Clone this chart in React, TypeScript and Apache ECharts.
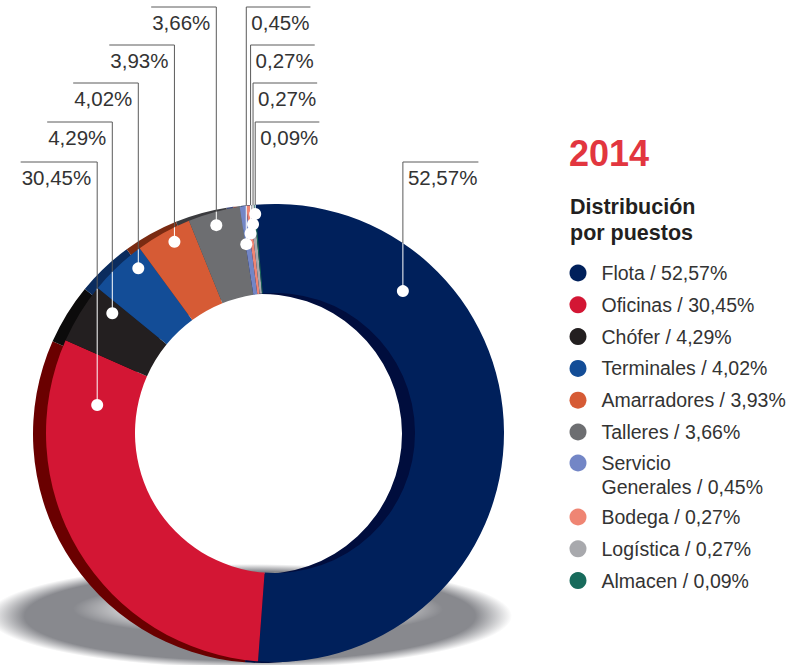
import React, { useEffect, useRef } from 'react';
import * as echarts from 'echarts';

// ---------- data ----------
const categories = [
  'Flota',
  'Oficinas',
  'Chófer',
  'Terminales',
  'Amarradores',
  'Talleres',
  'Servicio Generales',
  'Bodega',
  'Logística',
  'Almacen',
];
const values = [52.57, 30.45, 4.29, 4.02, 3.93, 3.66, 0.45, 0.27, 0.27, 0.09];
const titleYear = '2014';
const subtitle = 'Distribución\npor puestos';

// ---------- styles ----------
const colors = ['#00205b', '#d31634', '#231f20', '#134d97', '#d65b35', '#6d6e71', '#7386c6', '#ef8573', '#a8a9ad', '#186b5c'];
const darkColors = ['#000d3d', '#6a0000', '#0c0b0b', '#0b2c5e', '#7a2b12', '#3b3b3e', '#3d4a80', '#8a4a40', '#5c5d60', '#0b3a32'];
const FONT = "'Liberation Sans', Arial, sans-serif";
const TEXT = '#333333';

// ---------- layout ----------
const CX = 275;
const CY = 433;
const R_OUT = 229;
const R_IN = 140;
const START = 95;
const BACK_DX = -13;
const BACK_DY = 1;
const labelLineY = [162, 162, 122, 83, 45, 7, 7, 45, 83, 122];
const labelSide = ['right', 'left', 'left', 'left', 'left', 'left', 'right', 'right', 'right', 'right'];
const dotFrac = [0.2485, 0.864, 0.808, 0.759, 0.598, 0.478, 0.15, 0.3, 0.3, 0.5];
const dotRadius = [191, 180, 202, 214, 216, 216, 191, 201, 210, 220];

const fmt = (v: number) => v.toFixed(2).replace('.', ',');
const total = values.reduce((a, b) => a + b, 0);

function dotPos(i: number): [number, number] {
  let cum = 0;
  for (let j = 0; j < i; j++) cum += values[j];
  const frac = (cum + dotFrac[i] * values[i]) / total;
  const ang = ((START - 360 * frac) * Math.PI) / 180;
  return [CX + dotRadius[i] * Math.cos(ang), CY - dotRadius[i] * Math.sin(ang)];
}

export default function App() {
  const ref = useRef<HTMLDivElement>(null);

  useEffect(() => {
    document.body.style.margin = '0';
    if (!ref.current) return;
    const chart = echarts.init(ref.current, null, { renderer: 'svg' });
    const anchors = values.map((_, i) => dotPos(i));

    const dotElements: any[] = [];
    anchors.forEach(([x, y]) => {
      const edgeY = CY - Math.sqrt(Math.max(0, R_OUT * R_OUT - (x - CX) * (x - CX)));
      dotElements.push({
        type: 'line',
        z: 10,
        silent: true,
        shape: { x1: x, y1: y, x2: x, y2: edgeY },
        style: { stroke: '#ffffff', lineWidth: 1 },
      });
      dotElements.push({
        type: 'circle',
        z: 11,
        silent: true,
        shape: { cx: x, cy: y, r: 6 },
        style: { fill: '#ffffff' },
      });
    });

    const legendFmt = (name: string) => `${name} / ${fmt(values[categories.indexOf(name)])}%`;
    const legendText = {
      fontSize: 19.5,
      lineHeight: 24,
      color: TEXT,
      fontFamily: FONT,
      padding: [0, 0, 0, 10],
    };

    chart.setOption({
      animation: false,
      backgroundColor: '#ffffff',
      title: [
        {
          text: titleYear,
          left: 569,
          top: 135,
          padding: 0,
          textStyle: { fontSize: 36, fontWeight: 'bold', color: '#e2363f', fontFamily: FONT },
        },
        {
          text: subtitle,
          left: 570,
          top: 194,
          padding: 0,
          textStyle: { fontSize: 21.5, fontWeight: 'bold', lineHeight: 26, color: '#231f20', fontFamily: FONT },
        },
      ],
      legend: [
        {
          data: categories.slice(0, 6),
          orient: 'vertical',
          left: 569.5,
          top: 261,
          padding: 0,
          itemGap: 7.8,
          itemWidth: 17,
          itemHeight: 17,
          icon: 'circle',
          selectedMode: false,
          formatter: legendFmt,
          textStyle: legendText,
        },
        {
          data: [categories[6]],
          orient: 'vertical',
          left: 569.5,
          top: 438.5,
          padding: 0,
          itemWidth: 17,
          itemHeight: 17,
          icon: 'circle',
          selectedMode: false,
          formatter: () => `{a|Servicio}\n{b|Generales / ${fmt(values[6])}%}`,
          textStyle: {
            ...legendText,
            rich: {
              a: { fontSize: 19.5, lineHeight: 48, color: TEXT, fontFamily: FONT },
              b: { fontSize: 19.5, lineHeight: 1, color: TEXT, fontFamily: FONT },
            },
          },
        },
        {
          data: categories.slice(7),
          orient: 'vertical',
          left: 569.5,
          top: 505,
          padding: 0,
          itemGap: 7.8,
          itemWidth: 17,
          itemHeight: 17,
          icon: 'circle',
          selectedMode: false,
          formatter: legendFmt,
          textStyle: legendText,
        },
      ],
      graphic: {
        elements: [
          {
            type: 'ellipse',
            z: 0,
            silent: true,
            shape: { cx: 250, cy: 616, rx: 262, ry: 52 },
            style: {
              fill: {
                type: 'radial',
                x: 0.5,
                y: 0.5,
                r: 0.5,
                colorStops: [
                  { offset: 0, color: 'rgba(136,137,142,1)' },
                  { offset: 0.86, color: 'rgba(136,137,142,1)' },
                  { offset: 1, color: 'rgba(136,137,142,0)' },
                ],
              },
            },
          },
          {
            type: 'ellipse',
            z: 0,
            silent: true,
            shape: { cx: 258, cy: 609, rx: 185, ry: 27 },
            style: {
              fill: {
                type: 'radial',
                x: 0.5,
                y: 0.5,
                r: 0.5,
                colorStops: [
                  { offset: 0, color: 'rgba(255,255,255,1)' },
                  { offset: 0.55, color: 'rgba(255,255,255,0.95)' },
                  { offset: 1, color: 'rgba(255,255,255,0)' },
                ],
              },
            },
          },
          ...dotElements,
        ],
      },
      series: [
        {
          type: 'pie',
          name: 'front',
          z: 3,
          center: [CX, CY],
          radius: [R_IN, R_OUT],
          startAngle: START,
          clockwise: true,
          avoidLabelOverlap: false,
          silent: true,
          itemStyle: { borderWidth: 0 },
          data: categories.map((name, i) => ({ name, value: values[i], itemStyle: { color: colors[i] } })),
          label: {
            show: true,
            position: 'outside',
            formatter: (p: any) => `${fmt(p.value)}%`,
            fontSize: 20.5,
            color: TEXT,
            fontFamily: FONT,
          },
          labelLine: {
            show: true,
            smooth: false,
            lineStyle: { color: '#5a5a5a', width: 1 },
          },
          labelLayout: (params: any) => {
            const i = params.dataIndex;
            const [ax, ay] = anchors[i];
            const hy = labelLineY[i];
            const w = params.labelRect.width;
            const right = labelSide[i] === 'right';
            const tx = right ? ax + 5 : ax - 6;
            const endX = right ? ax + 5 + w + 1 : ax - 6 - w - 1;
            return {
              x: tx,
              y: hy + 5,
              align: right ? 'left' : 'right',
              verticalAlign: 'top',
              labelLinePoints: [
                [ax, ay],
                [ax, hy],
                [endX, hy],
              ],
            };
          },
        },
        {
          type: 'pie',
          name: 'back',
          z: 1,
          center: [CX + BACK_DX, CY + BACK_DY],
          radius: [R_IN, R_OUT],
          startAngle: START,
          clockwise: true,
          silent: true,
          itemStyle: { borderWidth: 0 },
          label: { show: false },
          labelLine: { show: false },
          data: values.map((v, i) => ({ value: v, itemStyle: { color: darkColors[i] } })),
        },
      ],
    });

    return () => chart.dispose();
  }, []);

  return <div ref={ref} style={{ width: 796, height: 665 }} />;
}
